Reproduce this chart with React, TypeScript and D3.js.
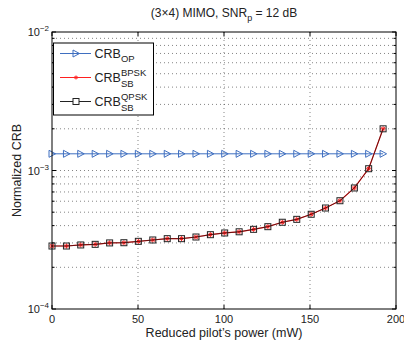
import React from 'react';
import * as d3 from 'd3';

// pilot power (mW) sample points
const powers = [
  0, 8.4, 16.7, 25.1, 33.5, 41.8, 50.2, 58.6, 67.0, 75.3, 83.7, 92.1,
  100.4, 108.8, 117.2, 125.5, 133.9, 142.3, 150.7, 159.0, 167.4, 175.8, 184.1, 192.5,
];
const crbOP = [
  1.32e-3, 1.32e-3, 1.32e-3, 1.32e-3, 1.32e-3, 1.32e-3, 1.32e-3, 1.32e-3, 1.32e-3, 1.32e-3, 1.32e-3, 1.32e-3,
  1.32e-3, 1.32e-3, 1.32e-3, 1.32e-3, 1.32e-3, 1.32e-3, 1.32e-3, 1.32e-3, 1.32e-3, 1.32e-3, 1.32e-3, 1.32e-3,
];
const crbBPSK = [
  2.85e-4, 2.85e-4, 2.9e-4, 2.93e-4, 3.0e-4, 3.01e-4, 3.08e-4, 3.15e-4, 3.22e-4, 3.22e-4, 3.31e-4, 3.44e-4,
  3.54e-4, 3.61e-4, 3.76e-4, 3.93e-4, 4.23e-4, 4.44e-4, 4.83e-4, 5.36e-4, 6.05e-4, 7.48e-4, 1.03e-3, 2.0e-3,
];
const crbQPSK = [
  2.85e-4, 2.85e-4, 2.9e-4, 2.93e-4, 3.0e-4, 3.01e-4, 3.08e-4, 3.15e-4, 3.22e-4, 3.22e-4, 3.31e-4, 3.44e-4,
  3.54e-4, 3.61e-4, 3.76e-4, 3.93e-4, 4.23e-4, 4.44e-4, 4.83e-4, 5.36e-4, 6.05e-4, 7.48e-4, 1.03e-3, 2.0e-3,
];
const xTicks = [0, 50, 100, 150, 200];
const yMajor = [1e-4, 1e-3, 1e-2];
const yExps = ['\u22124', '\u22123', '\u22122'];

const W = 404;
const H = 343;
const margin = { top: 32, right: 8, bottom: 34, left: 52 };
const FONT = 'Liberation Sans, Arial, Helvetica, sans-serif';
const BLUE = '#3f6fc0';

const App = () => {
  const x = d3.scaleLinear().domain([0, 200]).range([margin.left, 396]);
  const y = d3.scaleLog().domain([1e-4, 1e-2]).range([H - margin.bottom, margin.top]);
  const x0 = x(0), x1 = x(200), yTop = y(1e-2), yBot = y(1e-4);

  const minor: number[] = [];
  [1e-4, 1e-3].forEach(d => {
    for (let k = 2; k <= 9; k++) minor.push(d * k);
  });

  const line = d3.line<number>().x((_, i) => x(powers[i])).y(d => y(d));

  const tri = (cx: number, cy: number) =>
    `M${cx - 3},${cy - 3.5}L${cx + 3.5},${cy}L${cx - 3},${cy + 3.5}Z`;
  const star = (cx: number, cy: number, r = 2.5) => (
    <g stroke="#ff2020" strokeWidth={1}>
      <line x1={cx - r} y1={cy} x2={cx + r} y2={cy} />
      <line x1={cx} y1={cy - r} x2={cx} y2={cy + r} />
      <line x1={cx - r * 0.7} y1={cy - r * 0.7} x2={cx + r * 0.7} y2={cy + r * 0.7} />
      <line x1={cx - r * 0.7} y1={cy + r * 0.7} x2={cx + r * 0.7} y2={cy - r * 0.7} />
    </g>
  );

  const legend = [
    { label: 'OP', sup: '', key: 'op' },
    { label: 'SB', sup: 'BPSK', key: 'bpsk' },
    { label: 'SB', sup: 'QPSK', key: 'qpsk' },
  ];
  const legY = [53.5, 77.5, 101.5];

  return (
    <svg width={W} height={H} style={{ display: 'block', position: 'absolute', left: 0, top: 0 }} fontFamily={FONT}>
      <rect width={W} height={H} fill="#fff" />
      {/* grid */}
      <g stroke="#333" strokeWidth={0.6} strokeDasharray="1,3">
        {xTicks.slice(1, -1).map(t => (
          <line key={t} x1={x(t)} x2={x(t)} y1={yTop} y2={yBot} />
        ))}
        {minor.concat([1e-3]).map(t => (
          <line key={t} x1={x0} x2={x1} y1={y(t)} y2={y(t)} />
        ))}
      </g>
      {/* ticks */}
      <g stroke="#000" strokeWidth={1}>
        {xTicks.map(t => (
          <g key={t}>
            <line x1={x(t)} x2={x(t)} y1={yBot} y2={yBot - 4} />
            <line x1={x(t)} x2={x(t)} y1={yTop} y2={yTop + 4} />
          </g>
        ))}
        {yMajor.map(t => (
          <g key={t}>
            <line x1={x0} x2={x0 + 4} y1={y(t)} y2={y(t)} />
            <line x1={x1} x2={x1 - 4} y1={y(t)} y2={y(t)} />
          </g>
        ))}
        {minor.map(t => (
          <g key={t}>
            <line x1={x0} x2={x0 + 2.5} y1={y(t)} y2={y(t)} />
            <line x1={x1} x2={x1 - 2.5} y1={y(t)} y2={y(t)} />
          </g>
        ))}
      </g>
      {/* series */}
      <path d={line(crbOP) ?? ''} fill="none" stroke={BLUE} strokeWidth={1} />
      {crbOP.map((d, i) => (
        <path key={i} d={tri(x(powers[i]), y(d))} fill="none" stroke={BLUE} strokeWidth={1} />
      ))}
      <path d={line(crbBPSK) ?? ''} fill="none" stroke="#ff2020" strokeWidth={1.2} />
      {crbBPSK.map((d, i) => (
        <g key={i}>{star(x(powers[i]), y(d))}</g>
      ))}
      <path d={line(crbQPSK) ?? ''} fill="none" stroke="#000" strokeWidth={0.8} strokeOpacity={0.75} />
      {crbQPSK.map((d, i) => (
        <rect key={i} x={x(powers[i]) - 3} y={y(d) - 3} width={6} height={6} fill="none" stroke="#222" strokeWidth={1} />
      ))}
      {/* axes box */}
      <rect x={x0} y={yTop} width={x1 - x0} height={yBot - yTop} fill="none" stroke="#000" strokeWidth={1} />
      {/* tick labels */}
      <g fontSize={11} fill="#222">
        {xTicks.map(t => (
          <text key={t} x={x(t)} y={yBot + 14} textAnchor="middle">{t}</text>
        ))}
        {yMajor.map((t, i) => (
          <text key={t} x={x0 - 3} y={y(t) + 4} textAnchor="end">
            10<tspan fontSize={8} dy={-5}>{yExps[i]}</tspan>
          </text>
        ))}
      </g>
      {/* labels */}
      <text x={(x0 + x1) / 2} y={337} textAnchor="middle" fontSize={12.5} fill="#222">
        Reduced pilot’s power (mW)
      </text>
      <text transform={`translate(21,${(yTop + yBot) / 2}) rotate(-90)`} textAnchor="middle" fontSize={12.5} fill="#222">
        Normalized CRB
      </text>
      <text x={224} y={17} textAnchor="middle" fontSize={12} fill="#222">
        (3×4) MIMO, SNR<tspan fontSize={9} dy={4}>p</tspan><tspan dy={-4}> = 12 dB</tspan>
      </text>
      {/* legend */}
      <rect x={53.5} y={43} width={100} height={72} fill="#fff" stroke="#000" strokeWidth={1} />
      {legend.map((l, i) => {
        const ly = legY[i];
        return (
          <g key={l.key}>
            {l.key === 'op' && (
              <>
                <line x1={60} x2={91} y1={ly} y2={ly} stroke={BLUE} />
                <path d={tri(76, ly)} fill="none" stroke={BLUE} />
              </>
            )}
            {l.key === 'bpsk' && (
              <>
                <line x1={60} x2={91} y1={ly} y2={ly} stroke="#ff2020" />
                {star(76, ly, 2)}
              </>
            )}
            {l.key === 'qpsk' && (
              <>
                <line x1={60} x2={91} y1={ly} y2={ly} stroke="#222" />
                <rect x={73} y={ly - 3} width={6} height={6} fill="#fff" stroke="#222" />
              </>
            )}
            <text x={94.5} y={ly + 4.5} fontSize={12.5} fill="#222">
              CRB
              {l.sup ? (
                <>
                  <tspan fontSize={9.5} dy={-6.5}>{l.sup}</tspan>
                  <tspan x={121} fontSize={9.5} dy={11.5}>{l.label}</tspan>
                </>
              ) : (
                <tspan fontSize={9.5} dy={4}>{l.label}</tspan>
              )}
            </text>
          </g>
        );
      })}
    </svg>
  );
};

export default App;
